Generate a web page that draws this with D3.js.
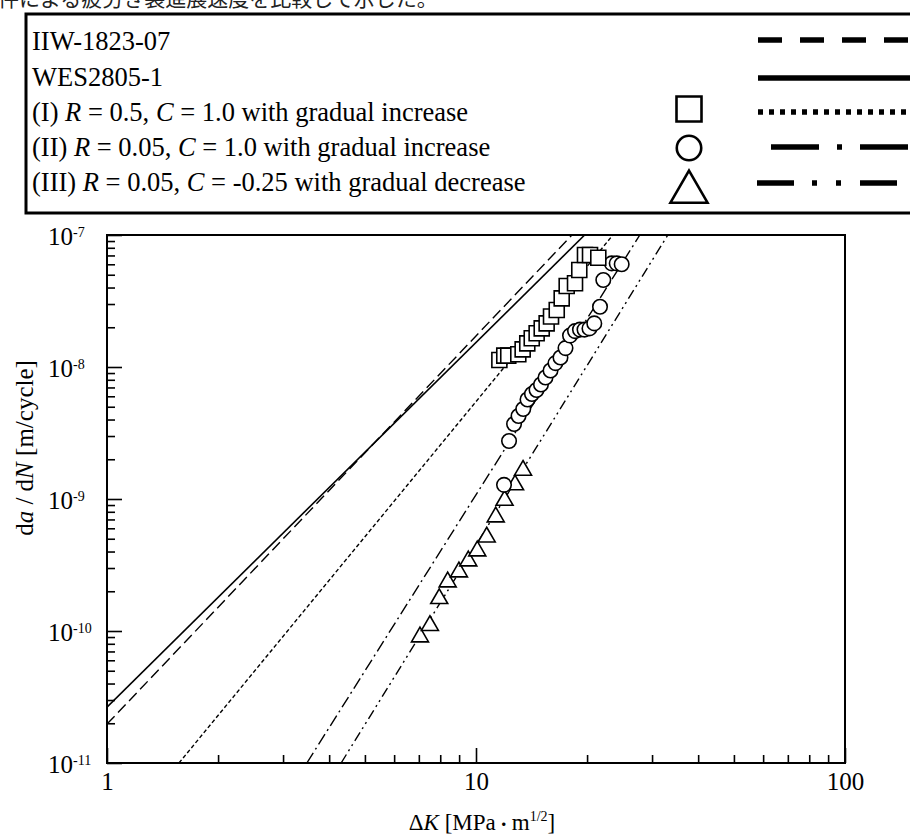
<!DOCTYPE html>
<html lang="ja">
<head>
<meta charset="utf-8">
<title>da/dN - ΔK</title>
<script src="https://d3js.org/d3.v7.min.js"></script>
<style>
  body { margin: 0; background: #fff; }
  svg { display: block; font-family: "Liberation Serif", "Times New Roman", serif; }
</style>
</head>
<body>
<script>
// ΔK [MPa m^1/2] / da/dN [m/cycle]
var dkI = [11.57, 11.93, 12.23, 13.02, 13.38, 13.77, 14.16, 14.60, 15.07, 15.54, 15.97, 16.55, 17.07, 17.61, 18.55, 19.05, 19.74, 20.37, 21.45];
var daI = [1.13e-8, 1.22e-8, 1.22e-8, 1.25e-8, 1.36e-8, 1.51e-8, 1.65e-8, 1.80e-8, 1.96e-8, 2.14e-8, 2.41e-8, 2.70e-8, 3.31e-8, 4.11e-8, 4.31e-8, 5.43e-8, 7.05e-8, 7.05e-8, 6.73e-8];

var dkII = [11.91, 12.29, 12.68, 13.04, 13.43, 13.79, 14.18, 14.59, 15.00, 15.43, 15.92, 16.42, 16.94, 17.48, 17.98, 18.55, 19.13, 19.68, 20.30, 20.92, 21.68, 22.13, 23.32, 24.06, 24.82];
var daII = [1.28e-9, 2.75e-9, 3.70e-9, 4.25e-9, 4.81e-9, 5.67e-9, 6.24e-9, 6.70e-9, 7.37e-9, 8.33e-9, 9.41e-9, 1.07e-8, 1.18e-8, 1.39e-8, 1.73e-8, 1.87e-8, 1.92e-8, 1.92e-8, 1.96e-8, 2.14e-8, 2.86e-8, 4.56e-8, 6.10e-8, 6.10e-8, 6.00e-8];

var dkIII = [7.05, 7.50, 7.95, 8.38, 8.99, 9.53, 10.08, 10.69, 11.31, 11.95, 12.76, 13.41];
var daIII = [9.01e-11, 1.10e-10, 1.76e-10, 2.35e-10, 2.80e-10, 3.39e-10, 4.04e-10, 5.15e-10, 7.31e-10, 9.77e-10, 1.28e-9, 1.65e-9];

// reference lines: end points [ΔK, da/dN] where they meet the frame
var lineNames = ["IIW-1823-07", "WES2805-1", "(I)", "(II)", "(III)"];
var lineStart = [[1, 1.97e-11], [1, 2.65e-11], [1.567, 1e-11], [3.48, 1e-11], [4.31, 1e-11]];
var lineEnd = [[18.2, 1e-7], [19.7, 1e-7], [23.5, 1e-7], [27.8, 1e-7], [33.1, 1e-7]];

var xTicks = [1, 10, 100];
var yTicks = [1e-11, 1e-10, 1e-9, 1e-8, 1e-7];
var yTickExp = ["-11", "-10", "-9", "-8", "-7"];

// legend rows: [text, italic]
var legendRows = [
  [["IIW-1823-07", false]],
  [["WES2805-1", false]],
  [["(I) ", false], ["R", true], [" = 0.5, ", false], ["C", true], [" = 1.0 with gradual increase", false]],
  [["(II) ", false], ["R", true], [" = 0.05, ", false], ["C", true], [" = 1.0 with gradual increase", false]],
  [["(III) ", false], ["R", true], [" = 0.05, ", false], ["C", true], [" = -0.25 with gradual decrease", false]]
];

var W = 910, H = 834;
var svg = d3.select("body").append("svg")
  .attr("width", W)
  .attr("height", H);

// cut-off line of body text above the figure
svg.append("text")
  .attr("x", -2)
  .attr("y", 6)
  .attr("font-family", "'Noto Sans CJK JP', sans-serif")
  .attr("font-size", 21)
  .attr("fill", "#222")
  .text("件による疲労き裂進展速度を比較して示した。");

var pLeft = 107, pRight = 845, pTop = 235, pBottom = 763;

var x = d3.scaleLog().domain([1, 100]).range([pLeft, pRight]);
var y = d3.scaleLog().domain([1e-11, 1e-7]).range([pBottom, pTop]);

svg.append("defs").append("clipPath")
  .attr("id", "plotclip")
  .append("rect")
  .attr("x", pLeft).attr("y", pTop)
  .attr("width", pRight - pLeft).attr("height", pBottom - pTop);

// minor ticks
var xMinor = [];
for (var d = 1; d < 100; d *= 10) for (var k = 2; k <= 9; k++) xMinor.push(d * k);
var yMinor = [];
for (var e = -11; e < -7; e++) for (var j = 2; j <= 9; j++) yMinor.push(j * Math.pow(10, e));

var gx = svg.append("g").attr("transform", "translate(0," + pBottom + ")");
gx.call(d3.axisBottom(x).tickValues(xMinor).tickSize(-8).tickFormat(""));
gx.append("g").call(d3.axisBottom(x).tickValues(xTicks).tickSize(-15).tickPadding(9).tickFormat(d3.format("d")));
gx.selectAll(".domain").remove();
gx.selectAll("line").attr("stroke", "#000").attr("stroke-width", 1.6);
gx.selectAll("text")
  .attr("font-family", "'Liberation Serif', serif")
  .attr("font-size", 25)
  .attr("fill", "#000");

var gy = svg.append("g").attr("transform", "translate(" + pLeft + ",0)");
gy.call(d3.axisLeft(y).tickValues(yMinor).tickSize(-8).tickFormat(""));
gy.append("g").call(d3.axisLeft(y).tickValues(yTicks).tickSize(-15).tickFormat(""));
gy.selectAll(".domain").remove();
gy.selectAll("line").attr("stroke", "#000").attr("stroke-width", 1.6);

// y tick labels 10^n
var yl = svg.append("g").selectAll("text")
  .data(yTicks)
  .enter()
  .append("text")
  .attr("x", 48)
  .attr("y", function (d) { return y(d) + 10; })
  .attr("font-size", 25);
yl.append("tspan").text("10");
yl.append("tspan")
  .attr("font-size", 14)
  .attr("dy", -8)
  .text(function (d, i) { return yTickExp[i]; });

// reference lines
var lineDash = [[11, 5], null, [4, 2.5], [12, 4, 2, 4], [10, 4, 2, 4, 2, 4]];
var lineWidth = [1.4, 1.6, 1.4, 1.4, 1.4];
var path = d3.line()
  .x(function (p) { return x(p[0]); })
  .y(function (p) { return y(p[1]); });

svg.append("g")
  .attr("clip-path", "url(#plotclip)")
  .selectAll("path")
  .data(lineNames)
  .enter()
  .append("path")
  .attr("d", function (d, i) { return path([lineStart[i], lineEnd[i]]); })
  .attr("fill", "none")
  .attr("stroke", "#000")
  .attr("stroke-width", function (d, i) { return lineWidth[i]; })
  .attr("stroke-dasharray", function (d, i) { return lineDash[i] ? lineDash[i].join(",") : null; });

// markers
function drawSeries(dk, da, type, size) {
  var sym = d3.symbol().type(type).size(size);
  svg.append("g")
    .attr("clip-path", "url(#plotclip)")
    .selectAll("path")
    .data(dk)
    .enter()
    .append("path")
    .attr("transform", function (d, i) { return "translate(" + x(d) + "," + y(da[i]) + ")"; })
    .attr("d", sym)
    .attr("fill", "#fff")
    .attr("stroke", "#000")
    .attr("stroke-width", 1.6);
}
drawSeries(dkIII, daIII, d3.symbolTriangle, 125);
drawSeries(dkII, daII, d3.symbolCircle, 165);
drawSeries(dkI, daI, d3.symbolSquare, 225);

// frame
svg.append("rect")
  .attr("x", pLeft).attr("y", pTop)
  .attr("width", pRight - pLeft).attr("height", pBottom - pTop)
  .attr("fill", "none")
  .attr("stroke", "#000")
  .attr("stroke-width", 2);

// axis titles
var xt = svg.append("text")
  .attr("x", 482)
  .attr("y", 830)
  .attr("text-anchor", "middle")
  .attr("font-size", 23);
xt.append("tspan").text("Δ");
xt.append("tspan").attr("font-style", "italic").text("K");
xt.append("tspan").text(" [MPa");
xt.append("tspan").attr("font-family", "'Noto Sans CJK JP', sans-serif").attr("font-size", 16).text("・");
xt.append("tspan").text("m");
xt.append("tspan").attr("font-size", 14).attr("dy", -9).text("1/2");
xt.append("tspan").attr("dy", 9).text("]");

var yt = svg.append("text")
  .attr("transform", "translate(33,448) rotate(-90)")
  .attr("text-anchor", "middle")
  .attr("font-size", 25);
yt.append("tspan").text("d");
yt.append("tspan").attr("font-style", "italic").text("a");
yt.append("tspan").text(" / d");
yt.append("tspan").attr("font-style", "italic").text("N");
yt.append("tspan").text(" [m/cycle]");

// legend
var lg = svg.append("g");
lg.append("rect")
  .attr("x", 26).attr("y", 14)
  .attr("width", 920).attr("height", 199)
  .attr("fill", "#fff")
  .attr("stroke", "#000")
  .attr("stroke-width", 3);

var rowY = [50, 86, 121, 156, 191];
var rowMid = [40, 78, 112, 147, 183];

lg.selectAll("text.row")
  .data(legendRows)
  .enter()
  .append("text")
  .attr("class", "row")
  .attr("x", 32)
  .attr("y", function (d, i) { return rowY[i]; })
  .attr("font-size", 26.5)
  .each(function (parts) {
    var t = d3.select(this);
    parts.forEach(function (p) {
      t.append("tspan").attr("font-style", p[1] ? "italic" : null).text(p[0]);
    });
  });

var legDash = [[24, 18], null, [5, 6], [48, 18, 5, 18], [37, 18, 5, 19, 5, 19]];
var legStart = [758, 758, 758, 771, 757];
lg.selectAll("line.sample")
  .data(lineNames)
  .enter()
  .append("line")
  .attr("class", "sample")
  .attr("x1", function (d, i) { return legStart[i]; })
  .attr("x2", 930)
  .attr("y1", function (d, i) { return rowMid[i]; })
  .attr("y2", function (d, i) { return rowMid[i]; })
  .attr("stroke", "#000")
  .attr("stroke-width", 5.5)
  .attr("stroke-dasharray", function (d, i) { return legDash[i] ? legDash[i].join(",") : null; });

var legSym = [d3.symbolSquare, d3.symbolCircle, d3.symbolTriangle];
var legSize = [625, 470, 595];
var legSymY = [109, 148, 192];
lg.selectAll("path.mk")
  .data(legSym)
  .enter()
  .append("path")
  .attr("class", "mk")
  .attr("transform", function (d, i) { return "translate(689," + legSymY[i] + ")"; })
  .attr("d", function (d, i) { return d3.symbol().type(d).size(legSize[i])(); })
  .attr("fill", "#fff")
  .attr("stroke", "#000")
  .attr("stroke-width", 2.6);
</script>
</body>
</html>
